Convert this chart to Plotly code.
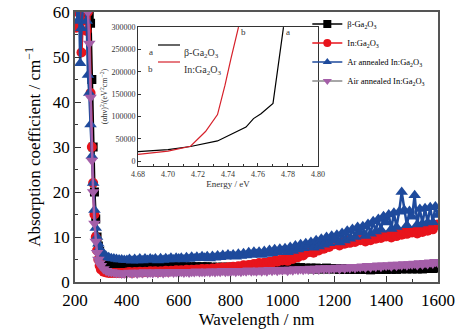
import plotly.graph_objects as go

# ---------------- data ----------------
wl_edge = [205, 210, 215, 220, 225, 230, 235, 240, 245, 250, 255, 260, 265, 270, 275,
           280, 285, 290, 295, 300, 310, 320, 330, 340, 350, 360, 370, 380, 390, 400]
wl_plateau = list(range(410, 1601, 10))
wavelength = wl_edge + wl_plateau

beta_edge = [70, 68, 66, 65, 64, 63, 62, 61, 60.5, 59.8, 59, 57.5, 45, 30, 20,
             14, 10, 8, 6.8, 6.0, 5.0, 4.4, 4.0, 3.8, 3.6, 3.5, 3.4, 3.3, 3.3, 3.3]
beta_plateau = [
    3.4, 3.2, 3.5, 3.3, 3.5, 3.4, 3.6, 3.4, 3.6, 3.5,
    3.6, 3.4, 3.5, 3.3, 3.5, 3.4, 3.5, 3.3, 3.5, 3.4,
    3.5, 3.3, 3.4, 3.2, 3.4, 3.3, 3.4, 3.2, 3.4, 3.3,
    3.4, 3.2, 3.3, 3.1, 3.3, 3.2, 3.3, 3.1, 3.3, 3.2,
    3.3, 3.1, 3.2, 3.0, 3.2, 3.1, 3.2, 3.0, 3.2, 3.1,
    3.2, 3.1, 3.3, 3.2, 3.4, 3.3, 3.5, 3.3, 3.5, 3.4,
    3.5, 3.3, 3.4, 3.2, 3.3, 3.1, 3.2, 3.0, 3.1, 3.0,
    3.1, 2.9, 3.1, 2.9, 3.0, 2.9, 3.1, 2.9, 3.0, 2.9,
    3.0, 2.8, 3.0, 2.8, 2.9, 2.8, 3.0, 2.8, 2.9, 2.8,
    3.0, 2.8, 2.9, 2.7, 2.9, 2.8, 3.0, 2.8, 2.9, 2.8,
    3.0, 2.8, 3.0, 2.8, 3.0, 2.9, 3.1, 2.9, 3.0, 2.9,
    3.1, 2.9, 3.1, 2.9, 3.1, 3.0, 3.2, 3.0, 3.2, 3.1]

in_edge = [56.5, 60, 62, 60, 51, 58, 62, 64, 55.8, 60, 62, 42, 30, 22, 15,
           10, 7, 5, 3.6, 2.8, 2.3, 2.1, 2.0, 2.0, 2.0, 2.0, 2.0, 2.0, 2.0, 2.1]
in_plateau = [
    2.2, 2.0, 2.2, 2.1, 2.3, 2.1, 2.3, 2.2, 2.4, 2.3,
    2.4, 2.2, 2.4, 2.3, 2.5, 2.3, 2.5, 2.4, 2.6, 2.5,
    2.6, 2.4, 2.7, 2.5, 2.7, 2.6, 2.8, 2.7, 2.9, 2.8,
    2.9, 2.7, 3.0, 2.9, 3.1, 3.0, 3.2, 3.1, 3.3, 3.2,
    3.4, 3.1, 3.5, 3.4, 3.7, 3.5, 3.8, 3.7, 4.0, 3.9,
    4.2, 3.8, 4.3, 4.1, 4.5, 4.3, 4.7, 4.5, 4.9, 4.8,
    5.2, 4.7, 5.4, 5.1, 5.8, 5.5, 6.1, 5.9, 6.5, 6.6,
    7.0, 6.5, 7.3, 7.0, 7.7, 7.4, 8.1, 7.8, 8.5, 8.4,
    8.8, 8.1, 8.9, 8.5, 9.2, 8.7, 9.3, 8.9, 9.5, 9.3,
    9.6, 9.0, 9.7, 9.3, 10.0, 9.6, 10.2, 9.8, 10.4, 10.1,
    10.5, 9.9, 10.6, 10.2, 10.9, 10.5, 11.1, 10.7, 11.3, 11.0,
    11.4, 10.8, 11.5, 11.1, 11.8, 11.4, 12.1, 11.7, 12.6, 12.8]

ar_edge = [62, 58, 64, 48.6, 56.4, 62, 65, 61, 58, 46, 42, 35, 28, 22, 16,
           12, 10, 8.5, 7.5, 6.8, 6.2, 5.8, 5.5, 5.3, 5.2, 5.1, 5.0, 5.0, 4.9, 4.9]
ar_plateau = [
    5.1, 4.7, 5.1, 4.8, 5.2, 4.8, 5.2, 4.9, 5.2, 5.0,
    5.2, 4.8, 5.3, 4.9, 5.3, 5.0, 5.4, 5.0, 5.4, 5.2,
    5.4, 5.0, 5.5, 5.1, 5.6, 5.2, 5.6, 5.3, 5.7, 5.4,
    5.7, 5.2, 5.8, 5.4, 5.9, 5.5, 6.0, 5.6, 6.1, 5.7,
    6.1, 5.6, 6.3, 5.8, 6.4, 5.9, 6.6, 6.0, 6.7, 6.2,
    6.7, 6.0, 6.9, 6.2, 7.1, 6.4, 7.3, 6.6, 7.4, 6.9,
    7.5, 6.6, 7.8, 6.9, 8.1, 7.2, 8.4, 7.5, 8.6, 8.0,
    8.9, 7.6, 9.3, 7.9, 9.6, 8.3, 10.0, 8.6, 10.3, 9.3,
    10.5, 8.8, 10.9, 9.2, 11.4, 9.6, 11.8, 10.0, 12.2, 11.0,
    12.4, 10.2, 12.9, 10.7, 13.5, 11.2, 14.0, 11.6, 14.6, 13.2,
    15.0, 11.8, 15.4, 12.2, 15.6, 20.0, 16.0, 12.6, 15.8, 14.5,
    19.3, 12.8, 16.2, 13.0, 16.4, 13.2, 16.6, 13.3, 16.8, 14.9]

air_edge = [68, 66, 65, 64, 63, 62, 61, 61, 60.5, 60, 53, 41, 27, 20, 13,
            9, 6.5, 5.0, 4.2, 3.6, 2.9, 2.5, 2.3, 2.2, 2.1, 2.0, 2.0, 1.9, 1.9, 1.9]
air_plateau = [
    2.1, 1.9, 2.1, 1.9, 2.1, 2.0, 2.2, 2.0, 2.1, 2.0,
    2.2, 2.0, 2.2, 2.0, 2.2, 2.1, 2.3, 2.1, 2.2, 2.1,
    2.3, 2.1, 2.3, 2.1, 2.3, 2.2, 2.4, 2.2, 2.3, 2.2,
    2.4, 2.2, 2.4, 2.2, 2.4, 2.3, 2.5, 2.3, 2.4, 2.3,
    2.5, 2.3, 2.5, 2.3, 2.5, 2.4, 2.6, 2.4, 2.5, 2.4,
    2.6, 2.4, 2.6, 2.4, 2.7, 2.5, 2.7, 2.5, 2.7, 2.6,
    2.8, 2.5, 2.8, 2.6, 2.9, 2.7, 2.9, 2.7, 2.9, 2.8,
    3.0, 2.7, 3.0, 2.8, 3.1, 2.9, 3.1, 2.9, 3.1, 3.0,
    3.2, 2.9, 3.3, 3.0, 3.3, 3.1, 3.4, 3.1, 3.4, 3.3,
    3.5, 3.2, 3.6, 3.3, 3.6, 3.4, 3.7, 3.4, 3.7, 3.6,
    3.8, 3.5, 3.9, 3.6, 3.9, 3.7, 4.0, 3.7, 4.0, 3.9,
    4.1, 3.8, 4.2, 3.9, 4.3, 4.0, 4.4, 4.1, 4.5, 4.3]

beta_abs = beta_edge + beta_plateau
in_abs = in_edge + in_plateau
ar_abs = ar_edge + ar_plateau
air_abs = air_edge + air_plateau

# inset: (alpha h nu)^2 vs energy
energy_a = [4.68, 4.70, 4.715, 4.733, 4.752, 4.757, 4.762, 4.770, 4.777]
tauc_a = [21000, 25500, 32500, 45000, 76000, 95000, 106000, 129000, 300000]
energy_b = [4.68, 4.70, 4.715, 4.725, 4.733, 4.738, 4.742, 4.747]
tauc_b = [15000, 22000, 33000, 66000, 104000, 170000, 230000, 300000]

names = ["β-Ga<sub>2</sub>O<sub>3</sub>", "In:Ga<sub>2</sub>O<sub>3</sub>",
         "Ar annealed In:Ga<sub>2</sub>O<sub>3</sub>", "Air annealed In:Ga<sub>2</sub>O<sub>3</sub>"]

# ---------------- figure ----------------
SERIF = "Liberation Serif"
fig = go.Figure()

styles = [
    (beta_abs, "#000000", "#000000", "square", 9),
    (in_abs, "#e8141c", "#e8141c", "circle", 10),
    (ar_abs, "#1e4a9c", "#1e4a9c", "triangle-up", 11),
    (air_abs, "#a45ea8", "#8a8a8a", "triangle-down", 11),
]
for (vals, mcol, lcol, sym, sz), nm in zip(styles, names):
    fig.add_trace(go.Scatter(
        x=wavelength, y=vals, name=nm, mode="lines+markers",
        line=dict(color=mcol, width=2.5),
        marker=dict(color=mcol, symbol=sym, size=sz, line=dict(width=0)),
        xaxis="x", yaxis="y", showlegend=False))
    # legend key of the same series
    fig.add_trace(go.Scatter(
        x=[None], y=[None], name=nm, mode="lines+markers",
        line=dict(color=lcol, width=1.5),
        marker=dict(color=mcol, symbol=sym, size=8, line=dict(width=0)),
        xaxis="x", yaxis="y", showlegend=True))

fig.add_trace(go.Scatter(x=energy_a, y=tauc_a, mode="lines", line=dict(color="#000000", width=1.2),
                         xaxis="x2", yaxis="y2", showlegend=False))
fig.add_trace(go.Scatter(x=energy_b, y=tauc_b, mode="lines", line=dict(color="#d6202a", width=1.2),
                         xaxis="x2", yaxis="y2", showlegend=False))

axis_common = dict(showline=True, linecolor="#555555", linewidth=1.5, mirror=True,
                   ticks="inside", tickcolor="#333333", showgrid=False, zeroline=False)

fig.update_layout(
    width=472, height=332,
    margin=dict(l=75, r=34, t=12, b=50, autoexpand=False),
    paper_bgcolor="white", plot_bgcolor="white",
    font=dict(family=SERIF, color="black"),
    xaxis=dict(range=[200, 1600], dtick=200, tick0=200, ticklen=6, ticklabelstandoff=2,
               minor=dict(dtick=100, ticklen=3, ticks="inside", tickcolor="#333333"),
               tickfont=dict(size=17, family=SERIF),
               title=dict(text="Wavelength / nm", font=dict(size=17, family=SERIF), standoff=3),
               **axis_common),
    yaxis=dict(range=[0, 60], dtick=10, ticklen=6,
               minor=dict(dtick=5, ticklen=3, ticks="inside", tickcolor="#333333"),
               tickfont=dict(size=17, family=SERIF),
               title=dict(text="Absorption coefficient / cm<sup>−1</sup>", font=dict(size=17, family=SERIF), standoff=8),
               **axis_common),
    xaxis2=dict(domain=[0.1736, 0.6694], anchor="y2", range=[4.68, 4.80], dtick=0.02, tick0=4.68,
                tickformat=".2f", ticklen=3, tickfont=dict(size=8, color="#333333", family=SERIF),
                minor=dict(dtick=0.01, ticklen=2, ticks="inside", tickcolor="#333333"),
                title=dict(text="Energy / eV", font=dict(size=9, color="#333333", family=SERIF), standoff=3),
                showline=True, linecolor="#333333", linewidth=1, mirror=True,
                ticks="inside", tickcolor="#333333", showgrid=False, zeroline=False),
    yaxis2=dict(domain=[0.4296, 0.944], anchor="x2", range=[-11200, 300000], dtick=50000,
                tickformat="d", ticklen=3, tickfont=dict(size=8, color="#333333", family=SERIF),
                title=dict(text="(αhν)<sup>2</sup>/(eV<sup>2</sup>cm<sup>−2</sup>)",
                           font=dict(size=8, color="#333333", family=SERIF), standoff=2),
                showline=True, linecolor="#333333", linewidth=1, mirror=True,
                ticks="inside", tickcolor="#333333", showgrid=False, zeroline=False),
    legend=dict(x=0.64, y=1.009, xanchor="left", yanchor="top", bgcolor="rgba(0,0,0,0)",
                font=dict(size=8.5, family=SERIF), tracegroupgap=0, itemwidth=30),
)

# inset legend and curve labels
px_x = lambda p: (p - 75) / 363
px_y = lambda p: (282 - p) / 270
for ypix, col, lab, txt in [(45, "#000000", "a", "β-Ga<sub>2</sub>O<sub>3</sub>"),
                            (62, "#d6202a", "b", "In:Ga<sub>2</sub>O<sub>3</sub>")]:
    fig.add_shape(type="line", xref="paper", yref="paper", x0=px_x(158), x1=px_x(180),
                  y0=px_y(ypix), y1=px_y(ypix), line=dict(color=col, width=1.2))
    fig.add_annotation(xref="paper", yref="paper", x=px_x(155), y=px_y(ypix), text=lab,
                       showarrow=False, xanchor="right", font=dict(size=9, color="#333333", family=SERIF))
    fig.add_annotation(xref="paper", yref="paper", x=px_x(182), y=px_y(ypix), text=txt,
                       showarrow=False, xanchor="left", font=dict(size=10, color="#333333", family=SERIF))

fig.add_annotation(xref="x2", yref="y2", x=4.7775, y=288000, text="a", showarrow=False,
                   xanchor="left", font=dict(size=9, color="#333333", family=SERIF))
fig.add_annotation(xref="x2", yref="y2", x=4.7475, y=288000, text="b", showarrow=False,
                   xanchor="left", font=dict(size=9, color="#333333", family=SERIF))

fig.write_html("out.html")
